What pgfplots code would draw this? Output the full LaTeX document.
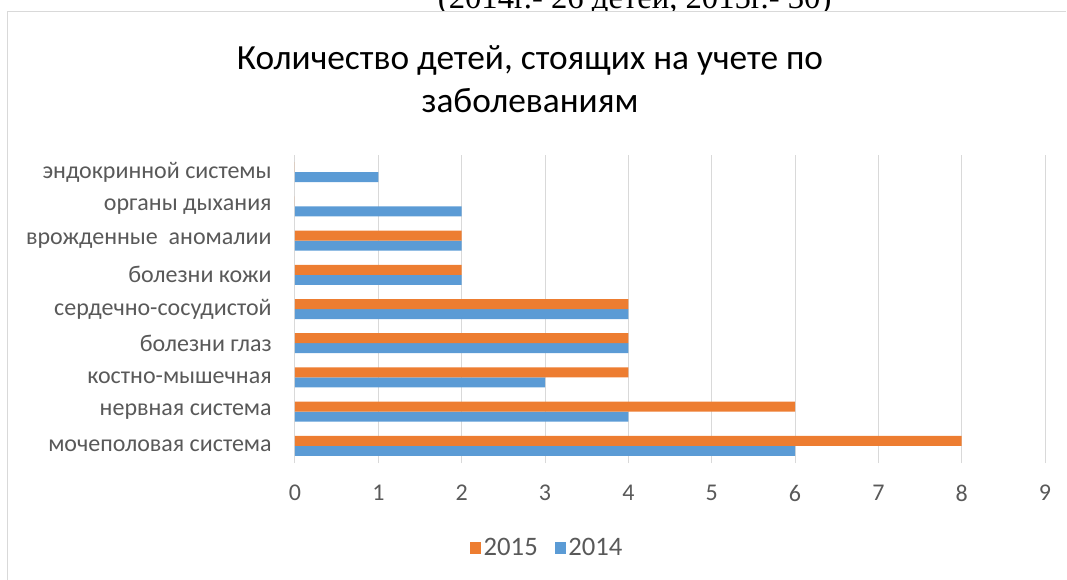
\documentclass[border=0pt]{standalone}
\usepackage{pgfplots}
\pgfplotsset{compat=1.18}
\usepackage{fontspec}
\setmainfont{Carlito}
\newfontfamily\timesfont{Liberation Serif}
\definecolor{blueA}{HTML}{5B9BD5}
\definecolor{orangeA}{HTML}{ED7D31}
\definecolor{txt}{HTML}{595959}
\definecolor{gridc}{HTML}{D9D9D9}
\begin{document}
\begin{tikzpicture}[x=1pt,y=1pt]
\useasboundingbox (0,0) rectangle (800.25,434.25);
\begin{scope}
\clip (0,0) rectangle (800.25,434.25);
\node[font=\timesfont\fontsize{24.5}{28}\selectfont, anchor=base, inner sep=0pt] at (476,427.5) {(2014г.- 26 детей, 2015г.- 30)};
\fill[white] (-1,425.8) rectangle (802,405);
\draw[gridc, line width=0.75pt] (5.5,-2) -- (5.5,425.5) -- (799.5,425.5);
\end{scope}
\node[font=\fontsize{26.5}{32}\selectfont, text=black, align=center] at (397.5,375) {Количество детей, стоящих на учете по\\заболеваниям};
\begin{axis}[
  at={(221.25pt,87pt)}, anchor=south west,
  scale only axis, width=562.5pt, height=231pt,
  xbar, bar width=7.5pt,
  xmin=0, xmax=9, ymin=-0.5, ymax=8.5,
  xtick={0,1,...,9},
  ytick={0,...,8},
  yticklabels={мочеполовая система, нервная система, костно-мышечная, болезни глаз, сердечно-сосудистой, болезни кожи\ , врожденные\ \ аномалии, органы дыхания, эндокринной системы},
  axis lines*=left,
  x axis line style={draw=none},
  y axis line style={gridc, line width=0.75pt},
  xmajorgrids, major grid style={gridc, line width=0.75pt},
  major tick length=0pt,
  tick label style={font=\fontsize{18}{20}\selectfont, text=txt},
  yticklabel style={xshift=-14pt},
  xticklabel style={yshift=-13pt},
  /pgf/number format/assume math mode=true,
  legend style={at={(0.337,-0.276)}, anchor=center, draw=none, fill=none, legend columns=2, font=\fontsize{20}{22}\selectfont, text=txt, nodes={inner xsep=2pt}, /tikz/every even column/.append style={column sep=11pt}},
  legend image code/.code={\fill[#1] (0pt,-4.2pt) rectangle (8pt,4.2pt);},
  legend cell align=left,
]
\addlegendimage{fill=orangeA, draw=none}
\addlegendentry{2015}
\addlegendimage{fill=blueA, draw=none}
\addlegendentry{2014}
\addplot[fill=blueA, draw=none, forget plot, bar shift=-3.75pt] coordinates {(6,0) (4,1) (3,2) (4,3) (4,4) (2,5) (2,6) (2,7) (1,8)};
\addplot[fill=orangeA, draw=none, forget plot, bar shift=3.75pt] coordinates {(8,0) (6,1) (4,2) (4,3) (4,4) (2,5) (2,6) (0,7) (0,8)};
\end{axis}
\end{tikzpicture}
\end{document}
